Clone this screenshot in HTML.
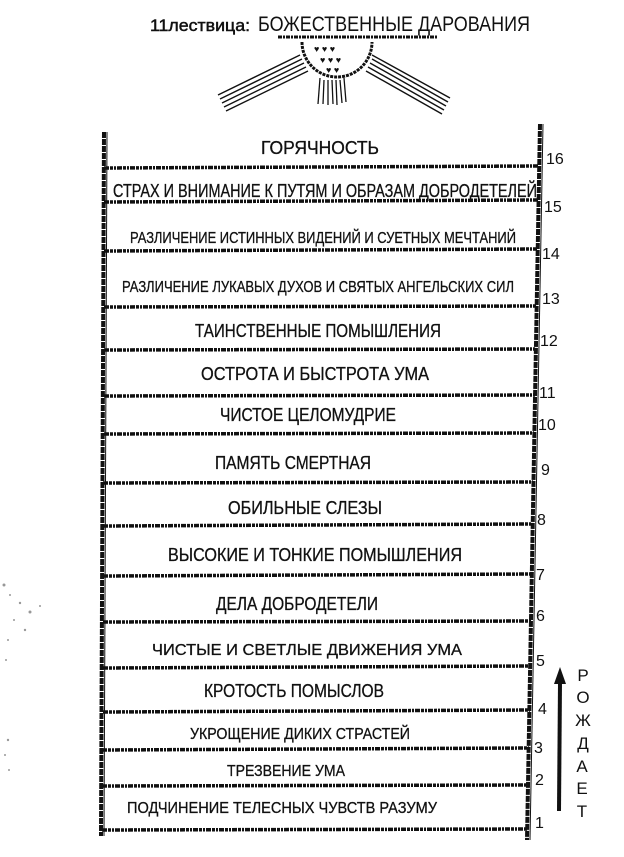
<!DOCTYPE html>
<html><head><meta charset="utf-8"><style>
html,body{margin:0;padding:0;background:#fff;width:624px;height:857px;overflow:hidden}
svg{display:block}
text{font-family:"Liberation Sans",sans-serif;fill:#111}
</style></head><body>
<svg width="624" height="857" viewBox="0 0 624 857" xmlns="http://www.w3.org/2000/svg">
<!-- title -->
<text x="150" y="31" font-size="17" stroke="#111" stroke-width="0.5" textLength="100" lengthAdjust="spacingAndGlyphs">11лествица:</text>
<text x="258" y="31" font-size="21" textLength="272" lengthAdjust="spacingAndGlyphs">БОЖЕСТВЕННЫЕ ДАРОВАНИЯ</text>
<line x1="278" y1="37" x2="438" y2="37" stroke="#111" stroke-width="3" stroke-dasharray="4 1 2 1"/>
<!-- rays -->
<g stroke="#111" stroke-width="1.4">
<line x1="300" y1="55" x2="218" y2="95"/><line x1="302" y1="59" x2="220" y2="99"/>
<line x1="304" y1="63" x2="222" y2="103"/><line x1="306" y1="67" x2="224" y2="107"/>
<line x1="308" y1="71" x2="226" y2="111"/>
<line x1="372" y1="55" x2="450" y2="98"/><line x1="372" y1="59" x2="448" y2="102"/>
<line x1="370" y1="63" x2="446" y2="106"/><line x1="368" y1="67" x2="444" y2="110"/>
<line x1="366" y1="71" x2="442" y2="114"/>
</g>
<path d="M302 42 A35 35 0 0 0 372 42" fill="#fff" stroke="#111" stroke-width="3" stroke-dasharray="3 1"/>
<g fill="#111" font-size="9"><text x="314" y="52">♥ ♥ ♥</text><text x="320" y="63">♥ ♥ ♥</text><text x="326" y="73">♥ ♥</text></g>
<g stroke="#111" stroke-width="1.3">
<line x1="320" y1="78" x2="318" y2="104"/><line x1="324" y1="80" x2="323" y2="104"/>
<line x1="328" y1="80" x2="328" y2="105"/><line x1="332" y1="80" x2="333" y2="104"/>
<line x1="336" y1="80" x2="337" y2="105"/><line x1="340" y1="80" x2="342" y2="103"/>
<line x1="344" y1="78" x2="346" y2="102"/>
</g>
<!-- rails -->
<line x1="104" y1="132" x2="101" y2="836" stroke="#111" stroke-width="4" stroke-dasharray="6 1"/>
<line x1="107" y1="132" x2="104" y2="836" stroke="#111" stroke-width="1"/>
<line x1="540" y1="124" x2="527" y2="840" stroke="#111" stroke-width="4" stroke-dasharray="6 1"/>
<line x1="543" y1="124" x2="530" y2="840" stroke="#111" stroke-width="1"/>
<!-- rungs -->
<g stroke="#111" stroke-width="3.5" stroke-dasharray="5 1 3 1 2 1">
<line x1="104" y1="168" x2="539" y2="166"/>
<line x1="104" y1="202" x2="538" y2="200"/>
<line x1="104" y1="251" x2="537" y2="249"/>
<line x1="104" y1="307" x2="536" y2="306"/>
<line x1="104" y1="350" x2="535" y2="349"/>
<line x1="104" y1="396" x2="535" y2="395"/>
<line x1="104" y1="434" x2="534" y2="433"/>
<line x1="103" y1="483" x2="533" y2="482"/>
<line x1="103" y1="526" x2="532" y2="524"/>
<line x1="103" y1="576" x2="532" y2="574"/>
<line x1="103" y1="622" x2="531" y2="621"/>
<line x1="103" y1="668" x2="530" y2="666"/>
<line x1="103" y1="712" x2="530" y2="710"/>
<line x1="102" y1="750" x2="529" y2="748"/>
<line x1="102" y1="786" x2="528" y2="785"/>
<line x1="102" y1="830" x2="527" y2="829"/>
</g>
<!-- labels -->
<g font-size="18" text-anchor="middle" stroke="#111" stroke-width="0.3">
<text x="320" y="154" textLength="118" lengthAdjust="spacingAndGlyphs">ГОРЯЧНОСТЬ</text>
<text x="325" y="197" textLength="424" lengthAdjust="spacingAndGlyphs">СТРАХ И ВНИМАНИЕ К ПУТЯМ И ОБРАЗАМ ДОБРОДЕТЕЛЕЙ</text>
<text x="323" y="243" font-size="16" textLength="386" lengthAdjust="spacingAndGlyphs">РАЗЛИЧЕНИЕ ИСТИННЫХ ВИДЕНИЙ И СУЕТНЫХ МЕЧТАНИЙ</text>
<text x="318" y="292" font-size="16" textLength="392" lengthAdjust="spacingAndGlyphs">РАЗЛИЧЕНИЕ ЛУКАВЫХ ДУХОВ И СВЯТЫХ АНГЕЛЬСКИХ СИЛ</text>
<text x="318" y="337" textLength="246" lengthAdjust="spacingAndGlyphs">ТАИНСТВЕННЫЕ ПОМЫШЛЕНИЯ</text>
<text x="315" y="380" textLength="228" lengthAdjust="spacingAndGlyphs">ОСТРОТА И БЫСТРОТА УМА</text>
<text x="308" y="421" textLength="176" lengthAdjust="spacingAndGlyphs">ЧИСТОЕ ЦЕЛОМУДРИЕ</text>
<text x="293" y="469" textLength="156" lengthAdjust="spacingAndGlyphs">ПАМЯТЬ СМЕРТНАЯ</text>
<text x="305" y="514" textLength="154" lengthAdjust="spacingAndGlyphs">ОБИЛЬНЫЕ СЛЕЗЫ</text>
<text x="315" y="561" textLength="294" lengthAdjust="spacingAndGlyphs">ВЫСОКИЕ И ТОНКИЕ  ПОМЫШЛЕНИЯ</text>
<text x="297" y="610" textLength="162" lengthAdjust="spacingAndGlyphs">ДЕЛА ДОБРОДЕТЕЛИ</text>
<text x="307" y="655" font-size="16" textLength="310" lengthAdjust="spacingAndGlyphs">ЧИСТЫЕ И СВЕТЛЫЕ ДВИЖЕНИЯ УМА</text>
<text x="294" y="697" textLength="180" lengthAdjust="spacingAndGlyphs">КРОТОСТЬ ПОМЫСЛОВ</text>
<text x="300" y="739" font-size="16" textLength="220" lengthAdjust="spacingAndGlyphs">УКРОЩЕНИЕ ДИКИХ СТРАСТЕЙ</text>
<text x="286" y="776" font-size="16" textLength="118" lengthAdjust="spacingAndGlyphs">ТРЕЗВЕНИЕ УМА</text>
<text x="282" y="813" font-size="16" textLength="310" lengthAdjust="spacingAndGlyphs">ПОДЧИНЕНИЕ ТЕЛЕСНЫХ ЧУВСТВ РАЗУМУ</text>
</g>
<!-- numbers -->
<g font-size="16">
<text x="546" y="164">16</text><text x="544" y="212">15</text><text x="542" y="259">14</text>
<text x="542" y="304">13</text><text x="540" y="346">12</text><text x="539" y="398">11</text>
<text x="538" y="430">10</text><text x="541" y="475">9</text><text x="537" y="525">8</text>
<text x="536" y="580">7</text><text x="536" y="621">6</text><text x="536" y="666">5</text>
<text x="538" y="714">4</text><text x="534" y="753">3</text><text x="535" y="785">2</text>
<text x="535" y="828">1</text>
</g>
<!-- arrow -->
<line x1="560" y1="682" x2="559" y2="811" stroke="#111" stroke-width="4"/>
<polygon points="560,667 554,684 566,684" fill="#111"/>
<g font-size="17" text-anchor="middle">
<text x="583" y="681">Р</text><text x="583" y="703">О</text><text x="583" y="726">Ж</text>
<text x="583" y="749">Д</text><text x="582" y="772">А</text><text x="582" y="794">Е</text><text x="582" y="817">Т</text>
</g>
<!-- noise speckle -->
<g fill="#555" opacity="0.6">
<circle cx="4" cy="585" r="1.5"/><circle cx="10" cy="595" r="1"/><circle cx="20" cy="603" r="1.2"/>
<circle cx="30" cy="612" r="1.5"/><circle cx="14" cy="620" r="1"/><circle cx="25" cy="630" r="1.2"/>
<circle cx="8" cy="640" r="1"/><circle cx="40" cy="606" r="1"/><circle cx="6" cy="660" r="1"/>
<circle cx="8" cy="740" r="1.2"/><circle cx="5" cy="755" r="1"/><circle cx="9" cy="770" r="1"/>
</g>
</svg>
</body></html>
